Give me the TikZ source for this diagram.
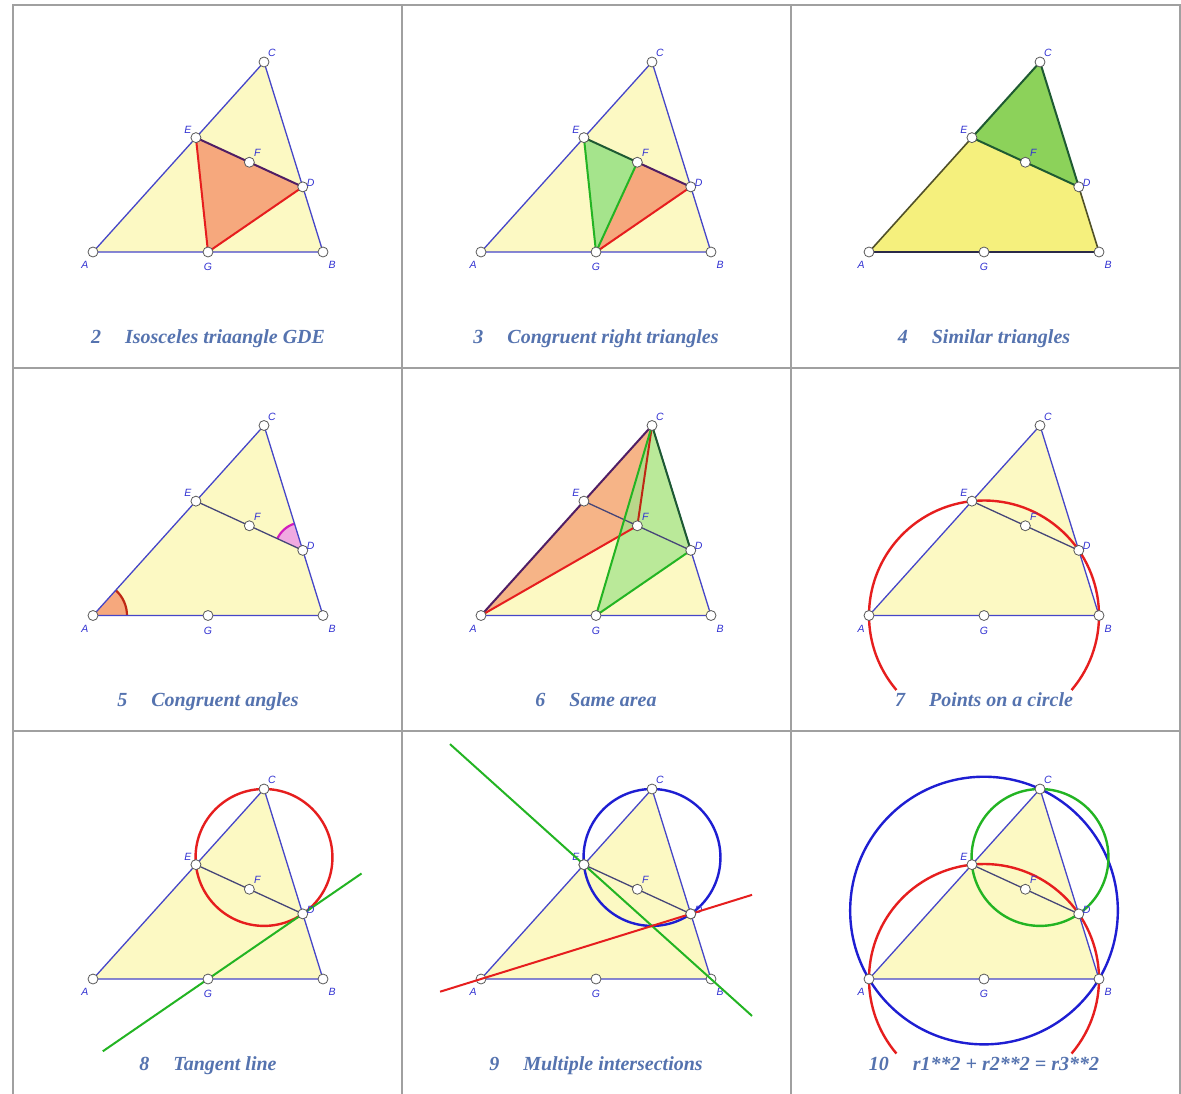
\documentclass[tikz,border=0pt]{standalone}
\usepackage{fontspec}
\setmainfont{Liberation Serif}
\setsansfont{Liberation Sans}
\usetikzlibrary{calc}
\definecolor{yel}{RGB}{252,249,195}
\definecolor{yeltwo}{RGB}{245,240,125}
\definecolor{ora}{RGB}{246,168,125}
\definecolor{lgreen}{RGB}{165,228,140}
\definecolor{mgreen}{RGB}{140,210,90}
\definecolor{triblue}{RGB}{70,70,200}
\definecolor{redc}{RGB}{230,30,30}
\definecolor{greenc}{RGB}{35,180,35}
\definecolor{dgreen}{RGB}{30,90,50}
\definecolor{dpurple}{RGB}{80,30,100}
\definecolor{olive}{RGB}{80,80,40}
\definecolor{slate}{RGB}{70,70,120}
\definecolor{labblue}{RGB}{50,50,210}
\definecolor{capblue}{RGB}{85,115,175}
\definecolor{gridgray}{RGB}{160,160,160}
\definecolor{bluec}{RGB}{30,30,210}
\definecolor{magen}{RGB}{210,30,190}
\definecolor{pinkf}{RGB}{240,170,225}
\definecolor{darkred}{RGB}{190,40,20}
\newcommand\defpts{%
  \coordinate (A) at (0,0);
  \coordinate (B) at (230,0);
  \coordinate (C) at (171,190);
  \coordinate (G) at ($(A)!0.5!(B)$);
  \coordinate (E) at ($(A)!(B)!(C)$);
  \coordinate (D) at ($(B)!(A)!(C)$);
  \coordinate (F) at ($(E)!0.5!(D)$);
  \coordinate (H) at (171,53.1);
  \coordinate (M) at (171,121.55);
  \coordinate (O) at (115,68.45);
}
\newcommand\ptlab[3]{\node[ptdot] (p#1) at (#1) {}; \node[ptlabel] (l#1) at ($(#1)+(#2,#3)$) {#1};}
\newcommand\allpts{\ptlab{A}{-8}{-13}\ptlab{B}{9}{-13}\ptlab{C}{8}{9}\ptlab{D}{8}{4}\ptlab{E}{-8}{8}\ptlab{F}{8}{9}\ptlab{G}{0}{-15}}
\newcommand\basetri{\fill[yel] (A)--(B)--(C)--cycle;}
\begin{document}
\begin{tikzpicture}[x=1pt,y=1pt,
  ptdot/.style={circle,draw=gray!70!black,fill=white,inner sep=0pt,minimum size=10pt,line width=0.8pt},
  ptlabel/.style={font=\sffamily\itshape\fontsize{10.5}{10.5}\selectfont,text=labblue,inner sep=0pt},
  captext/.style={font=\bfseries\itshape\fontsize{20}{20}\selectfont,text=capblue,anchor=base},
  triline/.style={draw=triblue,line width=1.3pt},
  segline/.style={draw=slate,line width=1.3pt},
  redline/.style={draw=redc,line width=2pt},
  greenline/.style={draw=greenc,line width=2pt},
  circline/.style={line width=2.4pt},
  gridline/.style={draw=gridgray,line width=2pt}]
\useasboundingbox (0,0) rectangle (1181,-1094);
\fill[white] (0,0) rectangle (1181,-1094);
% grid
\draw[gridline] (13,-1094) -- (13,-5) -- (1180,-5) -- (1180,-1094);
\draw[gridline] (402,-5) -- (402,-1094);
\draw[gridline] (791,-5) -- (791,-1094);
\draw[gridline] (13,-368) -- (1180,-368);
\draw[gridline] (13,-731) -- (1180,-731);
% ---------- panel 2
\begin{scope}[shift={(93,-252)}]
\defpts
\basetri
\draw[triline] (A)--(B)--(C)--cycle;
\fill[ora] (G)--(D)--(E)--cycle;
\draw[redline] (E)--(G)--(D);
\draw[draw=dpurple,line width=2pt] (E)--(D);
\allpts
\node[captext] (cap2) at (115,-91) {2\hspace{24pt}Isosceles triaangle GDE};
\end{scope}
% ---------- panel 3
\begin{scope}[shift={(481,-252)}]
\defpts
\basetri
\draw[triline] (A)--(B)--(C)--cycle;
\fill[lgreen] (G)--(E)--(F)--cycle;
\fill[ora] (G)--(F)--(D)--cycle;
\draw[greenline] (E)--(G)--(F);
\draw[redline] (G)--(D);
\draw[draw=dgreen,line width=2pt] (E)--(F);
\draw[draw=dpurple,line width=2pt] (F)--(D);
\allpts
\node[captext] (cap3) at (115,-91) {3\hspace{24pt}Congruent right triangles};
\end{scope}
% ---------- panel 4
\begin{scope}[shift={(869,-252)}]
\defpts
\fill[yeltwo] (A)--(B)--(D)--(E)--cycle;
\fill[mgreen] (C)--(E)--(D)--cycle;
\draw[draw=olive,line width=1.6pt] (E)--(A) (D)--(B);
\draw[draw=slate!60!black,line width=1.6pt] (A)--(B);
\draw[draw=dgreen,line width=2pt] (E)--(C)--(D)--cycle;
\allpts
\node[captext] (cap4) at (115,-91) {4\hspace{24pt}Similar triangles};
\end{scope}
% ---------- panel 5
\begin{scope}[shift={(93,-615.5)}]
\defpts
\basetri
\fill[ora] (A) -- ++(34,0) arc (0:48:34) -- cycle;
\draw[draw=darkred,line width=2.2pt] ($(A)+(34,0)$) arc (0:48:34);
\fill[pinkf] (D) -- ($(D)+(107.25:28)$) arc (107.25:155.26:28) -- cycle;
\draw[draw=magen,line width=2.2pt] ($(D)+(107.25:28)$) arc (107.25:155.26:28);
\draw[triline] (A)--(B)--(C)--cycle;
\draw[segline] (E)--(D);
\allpts
\node[captext] (cap5) at (115,-91) {5\hspace{24pt}Congruent angles};
\end{scope}
% ---------- panel 6
\begin{scope}[shift={(481,-615.5)}]
\defpts
\basetri
\fill[ora,fill opacity=0.85] (A)--(C)--(F)--cycle;
\fill[lgreen,fill opacity=0.75] (C)--(G)--(D)--cycle;
\draw[triline] (A)--(B)--(C);
\draw[segline] (E)--(D);
\draw[draw=dpurple,line width=2pt] (A)--(C);
\draw[redline] (A)--(F);
\draw[draw=darkred,line width=2pt] (C)--(F);
\draw[greenline] (C)--(G)--(D);
\draw[draw=dgreen,line width=2pt] (C)--(D);
\allpts
\node[captext] (cap6) at (115,-91) {6\hspace{24pt}Same area};
\end{scope}
% ---------- panel 7
\begin{scope}[shift={(869,-615.5)}]
\defpts
\basetri
\draw[triline] (A)--(B)--(C)--cycle;
\draw[segline] (E)--(D);
\draw[circline,redc] ($(G)+(-40.4:115)$) arc (-40.4:220.4:115);
\allpts
\node[captext] (cap7) at (115,-91) {7\hspace{24pt}Points on a circle};
\end{scope}
% ---------- panel 8
\begin{scope}[shift={(93,-979)}]
\defpts
\basetri
\draw[triline] (A)--(B)--(C)--cycle;
\draw[segline] (E)--(D);
\draw[circline,redc] (M) circle (68.45);
\draw[greenline] ($(G)!-1.11!(D)$) -- ($(G)!1.62!(D)$);
\allpts
\node[captext] (cap8) at (115,-91) {8\hspace{24pt}Tangent line};
\end{scope}
% ---------- panel 9
\begin{scope}[shift={(481,-979)}]
\defpts
\basetri
\draw[triline] (A)--(B)--(C)--cycle;
\draw[segline] (E)--(D);
\draw[circline,bluec] (M) circle (68.45);
\allpts
\draw[greenline] ($(E)!-1.054!(B)$) -- ($(E)!1.323!(B)$);
\draw[redline] ($(A)!-0.195!(D)$) -- ($(A)!1.292!(D)$);
\node[ptdot] at (E) {};
\node[ptdot] at (D) {};
\node[captext] (cap9) at (115,-91) {9\hspace{24pt}Multiple intersections};
\end{scope}
% ---------- panel 10
\begin{scope}[shift={(869,-979)}]
\defpts
\basetri
\draw[circline,bluec] (O) circle (133.83);
\draw[circline,redc] ($(G)+(-40.4:115)$) arc (-40.4:220.4:115);
\draw[circline,greenc] (M) circle (68.45);
\draw[triline] (A)--(B)--(C)--cycle;
\draw[segline] (E)--(D);
\allpts
\node[captext] (cap10) at (115,-91) {10\hspace{24pt}r1**2 + r2**2 = r3**2};
\end{scope}
\end{tikzpicture}
\end{document}
